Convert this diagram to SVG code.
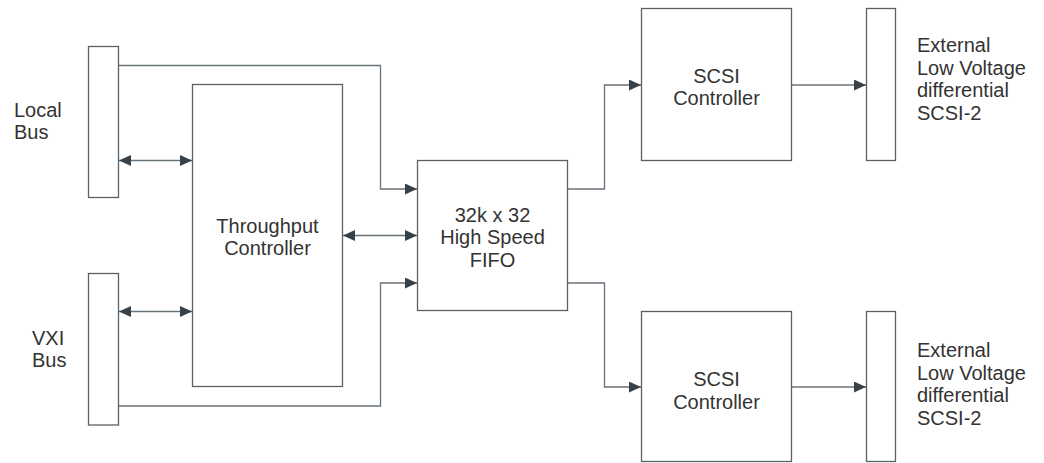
<svg xmlns="http://www.w3.org/2000/svg" width="1044" height="463" viewBox="0 0 1044 463">
<style>
.box{fill:#fff;stroke:#5a6268;stroke-width:1.3}
.ln{fill:none;stroke:#6a7379;stroke-width:1.3}
.t{font-family:"Liberation Sans",Arial,sans-serif;font-size:20px;fill:#333}
.c{text-anchor:middle}
</style>
<defs>
<marker id="ah" viewBox="0 0 12 11" refX="12" refY="5.5" markerWidth="12" markerHeight="11" markerUnits="userSpaceOnUse" orient="auto-start-reverse">
<path d="M0,0 L12,5.5 L0,11 z" fill="#36414a"/>
</marker>
</defs>
<rect width="1044" height="463" fill="#fff"/>
<g id="connectors">
<path class="ln" d="M118.5,65.5 H380.5 V189 H417" marker-end="url(#ah)"/>
<path class="ln" d="M118.5,406 H380.5 V283 H417" marker-end="url(#ah)"/>
<path class="ln" d="M119,160.5 H192" marker-start="url(#ah)" marker-end="url(#ah)"/>
<path class="ln" d="M119,311.5 H192" marker-start="url(#ah)" marker-end="url(#ah)"/>
<path class="ln" d="M343,235.5 H417" marker-start="url(#ah)" marker-end="url(#ah)"/>
<path class="ln" d="M567.5,189 H604.5 V85 H641" marker-end="url(#ah)"/>
<path class="ln" d="M567.5,283 H604.5 V387 H641" marker-end="url(#ah)"/>
<path class="ln" d="M791.5,85 H866" marker-end="url(#ah)"/>
<path class="ln" d="M791.5,387 H866" marker-end="url(#ah)"/>
</g>
<g id="local-bus">
<rect class="box" x="88.5" y="46.5" width="30" height="151"/>
<text class="t" x="14" y="117">Local</text>
<text class="t" x="14" y="139">Bus</text>
</g>
<g id="vxi-bus">
<rect class="box" x="88.5" y="273.5" width="30" height="151.5"/>
<text class="t" x="32" y="345">VXI</text>
<text class="t" x="32" y="367">Bus</text>
</g>
<g id="throughput-controller">
<rect class="box" x="192.5" y="84.5" width="150" height="302"/>
<text class="t c" x="267.5" y="232.5">Throughput</text>
<text class="t c" x="267.5" y="254.5">Controller</text>
</g>
<g id="fifo">
<rect class="box" x="417.5" y="160.5" width="150" height="150"/>
<text class="t c" x="492.5" y="221.5">32k x 32</text>
<text class="t c" x="492.5" y="244">High Speed</text>
<text class="t c" x="492.5" y="266.5">FIFO</text>
</g>
<g id="scsi-controller-1">
<rect class="box" x="641.5" y="8.5" width="150" height="152"/>
<text class="t c" x="716.5" y="82.5">SCSI</text>
<text class="t c" x="716.5" y="105">Controller</text>
</g>
<g id="scsi-controller-2">
<rect class="box" x="641.5" y="311.5" width="150" height="150"/>
<text class="t c" x="716.5" y="386">SCSI</text>
<text class="t c" x="716.5" y="408.5">Controller</text>
</g>
<g id="external-1">
<rect class="box" x="866.5" y="8.5" width="29" height="152"/>
<text class="t" x="917" y="52">External</text>
<text class="t" x="917" y="74.5">Low Voltage</text>
<text class="t" x="917" y="97">differential</text>
<text class="t" x="917" y="119.5">SCSI-2</text>
</g>
<g id="external-2">
<rect class="box" x="866.5" y="311.5" width="29" height="150"/>
<text class="t" x="917" y="357">External</text>
<text class="t" x="917" y="379.5">Low Voltage</text>
<text class="t" x="917" y="402">differential</text>
<text class="t" x="917" y="424.5">SCSI-2</text>
</g>
</svg>
